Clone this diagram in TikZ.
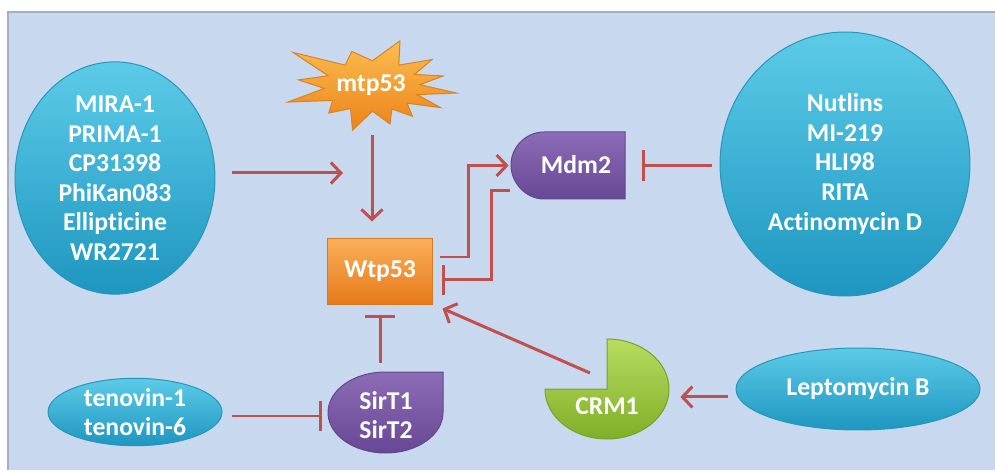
\documentclass[tikz,border=0pt]{standalone}
\usepackage{fontspec}
\setmainfont{Carlito}[Ligatures=NoCommon]
\usetikzlibrary{shapes.geometric,arrows.meta}
\definecolor{bgpanel}{RGB}{200,217,239}
\definecolor{bordergrey}{RGB}{165,175,192}
\definecolor{lnred}{RGB}{192,80,77}
\definecolor{cyantop}{RGB}{92,203,232}
\definecolor{cyanbot}{RGB}{30,150,192}
\definecolor{cyanedge}{RGB}{40,150,185}
\definecolor{orangetop}{RGB}{251,176,90}
\definecolor{orangebot}{RGB}{230,120,25}
\definecolor{orangeedge}{RGB}{215,120,30}
\definecolor{purtop}{RGB}{140,108,182}
\definecolor{purbot}{RGB}{104,72,148}
\definecolor{puredge}{RGB}{100,70,140}
\definecolor{greentop}{RGB}{184,220,95}
\definecolor{greenbot}{RGB}{128,175,40}
\definecolor{greenedge}{RGB}{120,160,45}
\definecolor{startop}{RGB}{252,190,80}
\definecolor{starbot}{RGB}{236,130,25}
\definecolor{staredge}{RGB}{220,130,30}
\begin{document}
\begin{tikzpicture}[x=0.02cm,y=-0.02cm,
  txt/.style={text=white, font=\fontsize{14.6}{16.8}\selectfont\bfseries, align=center, inner sep=0pt},
  drug/.style={ellipse, inner sep=0pt, top color=cyantop, bottom color=cyanbot, draw=cyanedge, line width=0.02cm, txt},
  shapebox/.style={rectangle, inner sep=0pt, draw=none},
  act/.style={draw=lnred, line width=0.06cm, -{Straight Barb[length=0.2cm,width=0.42cm]}},
  inh/.style={draw=lnred, line width=0.06cm, -{Bar[width=0.62cm]}},
  shp/.style={line width=0.02cm}
]
\useasboundingbox (0,0) rectangle (995,473);
\fill[white] (0,0) rectangle (995,473);
\fill[bgpanel] (8,12) rectangle (995,470);
\draw[bordergrey, line width=0.04cm] (8,470) -- (8,12) -- (995,12);

% starburst mtp53
\shade[top color=startop, bottom color=starbot, draw=staredge, shp]
  ({372+80*0.6*cos(357)},{86+42*0.6*sin(357)})
  \foreach \a/\f/\v in {9/1.07/20, 31/1.0/43, 55/0.88/65.5, 76/0.93/89.5, 103/1.08/116.5, 130/0.84/145, 160/1.12/174.5, 189/0.93/204, 219/1.27/236, 253/0.86/270.5, 288/1.13/304, 320/0.98/332.5, 345/0.92/357}
  { -- ({372+80*\f*cos(\a)},{86+42*\f*sin(\a)}) -- ({372+80*0.6*cos(\v)},{86+42*0.6*sin(\v)}) } -- cycle;

% Mdm2 shape
\shade[top color=purtop, bottom color=purbot, draw=puredge, shp]
  (625,132) -- (544,132) .. controls (526,132) and (511,147) .. (511,165)
  .. controls (511,183) and (526,199) .. (544,199) -- (625,199) -- cycle;

% SirT shape
\shade[top color=purtop, bottom color=purbot, draw=puredge, shp]
  (443,372) -- (443,412.5) .. controls (443,434.9) and (417.3,453) .. (385.5,453)
  .. controls (353.7,453) and (328,434.9) .. (328,412.5)
  .. controls (328,390.1) and (353.7,372) .. (385.5,372) -- cycle;

% CRM1 shape
\shade[top color=greentop, bottom color=greenbot, draw=greenedge, shp]
  (607,389) -- (545,389) .. controls (545,416.6) and (572.8,439) .. (607,439)
  .. controls (641.2,439) and (669,416.6) .. (669,389)
  .. controls (669,361.4) and (641.2,339) .. (607,339) -- cycle;

% nodes
\node[drug, minimum width=4cm, minimum height=4.02cm] (lc) at (115,178)
  {MIRA-1\\PRIMA-1\\CP31398\\PhiKan083\\Ellipticine\\WR2721};
\node[drug, minimum width=5cm, minimum height=5.28cm] (rc) at (845,164)
  {Nutlins\\MI-219\\HLI98\\RITA\\Actinomycin D};
\node[drug, minimum width=4.88cm, minimum height=1.64cm] (lep) at (858,389) {Leptomycin B};
\node[drug, minimum width=3.48cm, minimum height=1.34cm] (tn) at (135,412) {tenovin-1\\tenovin-6};
\node[rectangle, minimum width=2.12cm, minimum height=1.34cm, top color=orangetop,
  bottom color=orangebot, draw=orangeedge, shp, txt] (wt) at (380,271.5) {Wtp53};

\node[shapebox, minimum width=3.4cm, minimum height=1.84cm] (mtp) at (372,86) {};
\node[txt] (mtpt) at (371,85) {mtp53};
\node[shapebox, minimum width=2.28cm, minimum height=1.34cm] (mdm) at (568,165.5) {};
\node[txt] (mdmt) at (576,165) {Mdm2};
\node[shapebox, minimum width=2.3cm, minimum height=1.62cm] (sir) at (385.5,412.5) {};
\node[txt] (sirt) at (386,415) {SirT1\\SirT2};
\node[shapebox, minimum width=2.48cm, minimum height=2cm] (crm) at (607,389) {};
\node[txt] (crmt) at (607,406) {CRM1};

% connectors
\coordinate (j1) at (343,173);
\draw[act] (lc.east |- j1) ++(17,0) -- (j1);
\draw[act] (mtp.south) ++(0,3) -- ([yshift=0.32cm]mtp.south |- wt.north);
\draw[act] (wt.east) ++(7,-14.5) -- ++(28,0) |- ([xshift=-0.04cm]mdm.west);
\draw[inh] (mdm.west) ++(-1,25) -- ++(-18,0) |- ([xshift=0.18cm,yshift=-0.17cm]wt.east);
\draw[inh] (mdm.east -| rc.west) ++(-8,0) -- ([xshift=0.34cm]mdm.east);
\draw[inh] (wt.south |- sir.north) ++(0,-9) -- ([yshift=-0.2cm]wt.south);
\coordinate (s7) at ([xshift=0.2cm,yshift=-0.08cm]tn.east);
\draw[inh] (s7) -- ([xshift=-0.12cm]s7 -| sir.west);
\draw[act] ([xshift=-0.34cm,yshift=0.32cm]crm.center) -- ([xshift=0.18cm,yshift=-0.06cm]wt.south east);
\coordinate (s9) at ([xshift=-0.16cm,yshift=-0.16cm]lep.west);
\draw[act] (s9) -- ([xshift=0.22cm]s9 -| crm.east);
\end{tikzpicture}
\end{document}
